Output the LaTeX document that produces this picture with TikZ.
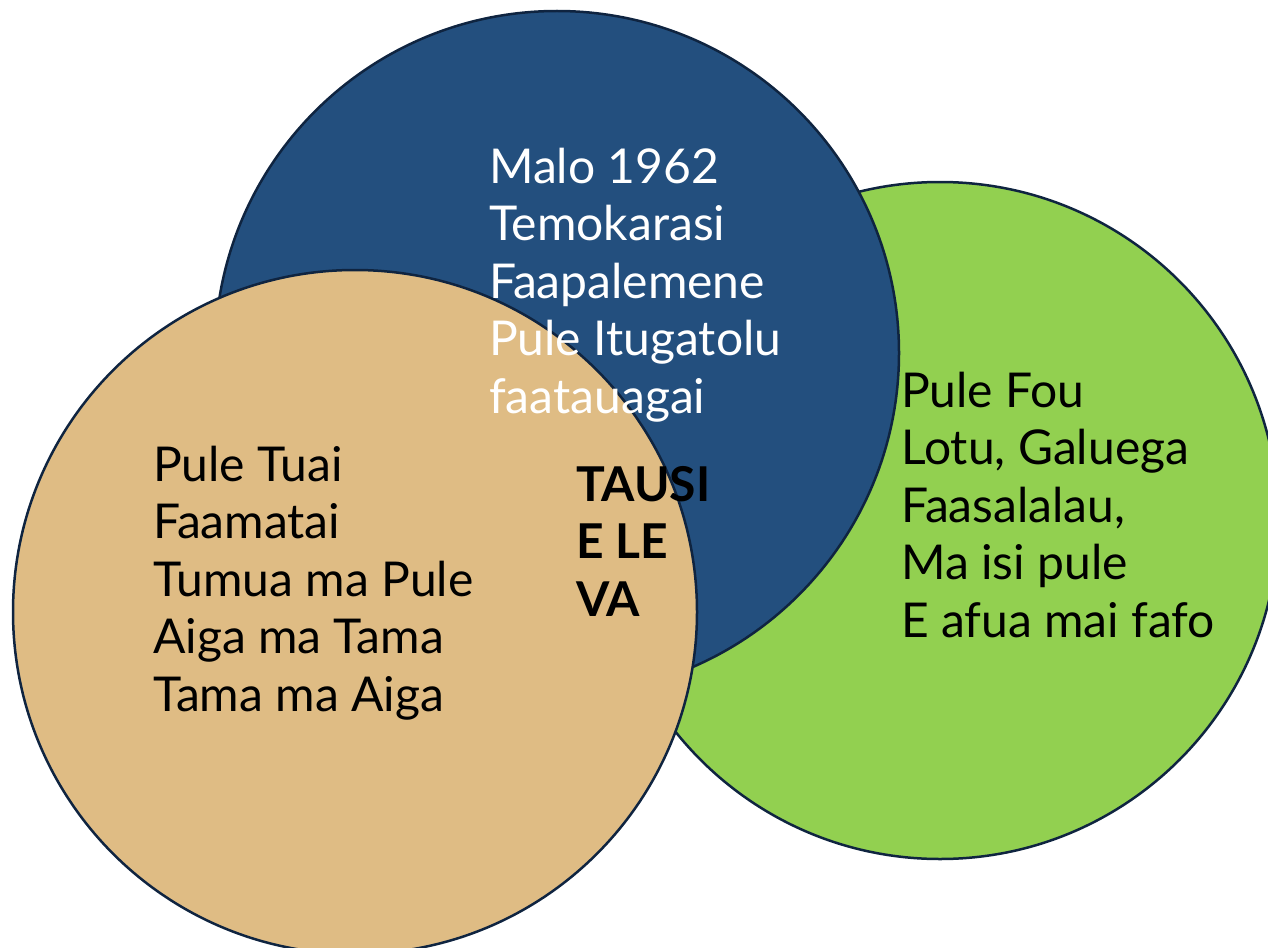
\documentclass[tikz,border=0pt]{standalone}
\usepackage{fontspec}
\setmainfont{Lato}
\definecolor{cblue}{HTML}{234F7E}
\definecolor{cgreen}{HTML}{92D050}
\definecolor{ctan}{HTML}{DFBC84}
\definecolor{cline}{HTML}{0F2440}
\begin{document}
\begin{tikzpicture}[x=1pt,y=-1pt,
  circ/.style={draw=cline,line width=2.5pt},
  txt/.style={inner sep=0pt,anchor=base west,align=left,font=\fontsize{48}{57.5}\selectfont}]
\useasboundingbox (0,0) rectangle (1268,947);
\begin{scope}
\clip (0,0) rectangle (1268,947);
\draw[circ,fill=cgreen] (940,520.5) circle (338.5);
\draw[circ,fill=cblue] (557,353) circle (342);
\draw[circ,fill=ctan] (355,612) circle (342);
\end{scope}
% anchors sit on the baseline of each block's last line
\node[txt,text=white] (gov) at (489,413) {Malo 1962\\Temokarasi\\Faapalemene\\Pule Itugatolu\\faatauagai};
\node[txt] (new) at (901,637) {Pule Fou\\Lotu, Galuega\\Faasalalau,\\Ma isi pule\\E afua mai fafo};
\node[txt] (old) at (153,711) {Pule Tuai\\Faamatai\\Tumua ma Pule\\Aiga ma Tama\\Tama ma Aiga};
\node[txt,font=\fontsize{48}{57.5}\selectfont\bfseries] (va) at (576,616) {TAUSI\\E LE\\VA};
\end{tikzpicture}
\end{document}
